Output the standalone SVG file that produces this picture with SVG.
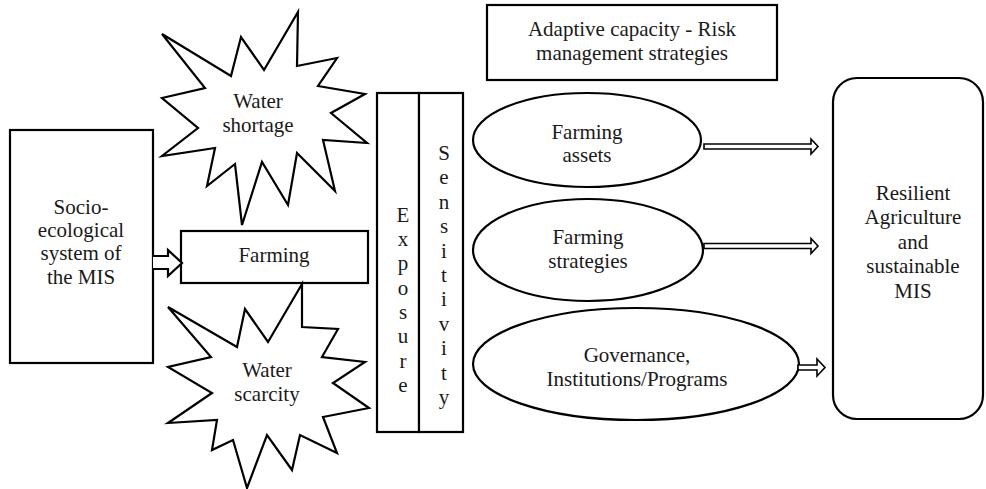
<svg xmlns="http://www.w3.org/2000/svg" width="986" height="489" viewBox="0 0 986 489">
<style>
.s{fill:#fff;stroke:#000;stroke-width:2.2;stroke-linejoin:miter}
.a{fill:#fff;stroke:#000;stroke-width:1.6;stroke-linejoin:miter}
</style>
<rect width="986" height="489" fill="#fff"/>
<g font-family="Liberation Serif, Times New Roman, DejaVu Serif, serif" font-size="21" fill="#1a1a1a" text-anchor="middle">
<g id="adaptive">
<rect class="s" x="487" y="5" width="290" height="75"/>
<text x="632" y="36">Adaptive capacity - Risk</text>
<text x="632" y="60">management strategies</text>
</g>
<g id="socio">
<rect class="s" x="10" y="130" width="143" height="233"/>
<text x="81" y="214">Socio-</text>
<text x="81" y="237">ecological</text>
<text x="81" y="260">system of</text>
<text x="81" y="284">the MIS</text>
</g>
<g id="farming">
<rect class="s" x="181" y="231" width="187" height="52"/>
<text x="274" y="262">Farming</text>
</g>
<g id="water-shortage">
<polygon class="s" points="162,34 231,76 241,37 264,70 298,12 297,66 337,58 318,86 365,94 331,113 367,143 323,140 335,191 297,153 288,205 262,162 242,225 235,164 207,186 215,148 162,156 198,128 162,98 205,88"/>
<text x="258" y="108">Water</text>
<text x="258" y="132">shortage</text>
</g>
<g id="water-scarcity">
<polygon class="s" points="168,307 237,347 245,309 268,342 302,284 302,327 338,329 322,357 365,362 333,383 369,408 323,417 337,453 300,435 292,470 267,435 247,488 233,440 212,450 217,420 168,423 212,393 168,367 211,357"/>
<text x="267" y="377">Water</text>
<text x="267" y="401">scarcity</text>
</g>
<g id="exposure">
<rect class="s" x="377" y="93" width="42" height="339"/>
<text x="403" y="222">E</text>
<text x="403" y="246">x</text>
<text x="403" y="270">p</text>
<text x="403" y="295">o</text>
<text x="403" y="319">s</text>
<text x="403" y="343">u</text>
<text x="403" y="368">r</text>
<text x="403" y="392">e</text>
</g>
<g id="sensitivity">
<rect class="s" x="419" y="93" width="44" height="339"/>
<text x="444" y="160">S</text>
<text x="444" y="184">e</text>
<text x="444" y="209">n</text>
<text x="444" y="233">s</text>
<text x="444" y="258">i</text>
<text x="444" y="282">t</text>
<text x="444" y="306">i</text>
<text x="444" y="331">v</text>
<text x="444" y="355">i</text>
<text x="444" y="380">t</text>
<text x="444" y="404">y</text>
</g>
<g id="farming-assets">
<ellipse class="s" cx="587" cy="140" rx="114" ry="47"/>
<text x="587" y="139">Farming</text>
<text x="587" y="162">assets</text>
</g>
<g id="farming-strategies">
<ellipse class="s" cx="588" cy="250" rx="115" ry="51"/>
<text x="588" y="244">Farming</text>
<text x="588" y="268">strategies</text>
</g>
<g id="governance">
<ellipse class="s" cx="636" cy="364" rx="163" ry="56"/>
<text x="637" y="362">Governance,</text>
<text x="637" y="386">Institutions/Programs</text>
</g>
<g id="resilient">
<rect class="s" x="833" y="78" width="150" height="341" rx="24" ry="24"/>
<text x="913" y="200">Resilient</text>
<text x="913" y="224">Agriculture</text>
<text x="913" y="249">and</text>
<text x="913" y="273">sustainable</text>
<text x="913" y="298">MIS</text>
</g>
</g>
<g id="connectors">
<path class="s" d="M153,256 H168 V250 L182,263 L168,276 V269 H153"/>
<path class="a" d="M704,144 H811 V139 L818,146.5 L811,154 V149 H704 Z"/>
<path class="a" d="M704,243.5 H811 V238.5 L818,246 L811,253.5 V248.5 H704 Z"/>
<path class="a" d="M798,365 H817 V359 L825,367.5 L817,376 V370 H798 Z"/>
</g>
</svg>
